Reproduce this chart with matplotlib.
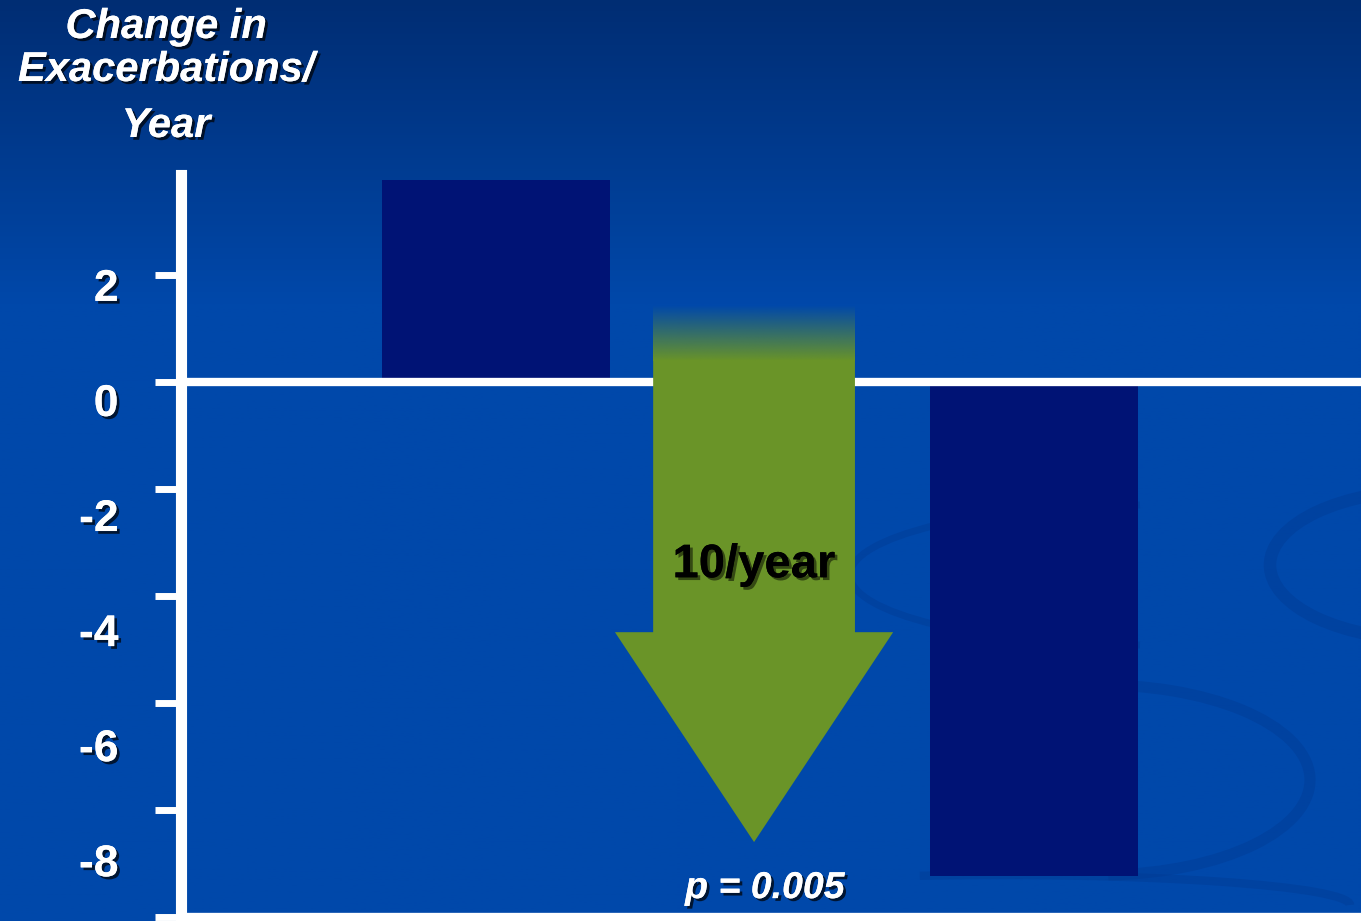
import matplotlib.pyplot as plt
import matplotlib.patheffects as pe
import matplotlib.transforms as mtransforms
from matplotlib.patches import Polygon, Arc
import numpy as np

# data
groups = ['before', 'after']
changes = [3.77, -9.24]
bar_widths = [0.424, 0.387]
yticks = [2, 0, -2, -4, -6, -8, -10]
ytick_labels = ['2', '0', '-2', '-4', '-6', '-8', '']
arrow_label = '10/year'
p_label = 'p = 0.005'
ylabel_lines = ['Change in', 'Exacerbations/', 'Year']

# arrow shape (data units)
arrow_x = 0.48
shaft_half = 0.1875
head_half = 0.2585
fade_top, fade_bottom = 1.43, 0.41
head_start, tip = -4.68, -8.60

bg_top = np.array([0, 45, 115]) / 255
bg_bottom = np.array([0, 72, 170]) / 255
bar_color = '#001375'
green = np.array([106, 148, 40]) / 255

shadow = [pe.withSimplePatchShadow(offset=(2, -2), shadow_rgbFace='black', alpha=0.7), pe.Normal()]

fig = plt.figure(figsize=(13.61, 9.21), dpi=100)

# background gradient + faint swirls (pixel coords)
bg = fig.add_axes([0, 0, 1, 1], zorder=0)
t = np.clip(np.linspace(0, 1, 400) / 0.33, 0, 1)[:, None]
grad = bg_top * (1 - t) + bg_bottom * t
bg.imshow(grad[:, None, :].repeat(2, axis=1), aspect='auto', extent=[0, 1361, 921, 0])
for (cx, cy, w, h, a1, a2, lw) in [(1140, 575, 580, 140, 90, 270, 5),
                                   (1100, 780, 420, 190, -95, 85, 8),
                                   (1430, 565, 320, 150, 90, 270, 9),
                                   (1000, 905, 700, 60, 200, 360, 6)]:
    bg.add_patch(Arc((cx, cy), w, h, theta1=a1, theta2=a2,
                     color=(0, 0.23, 0.58), alpha=0.45, lw=lw))
bg.set_xlim(0, 1361)
bg.set_ylim(921, 0)
bg.axis('off')

ax = fig.add_axes([181 / 1361, 4 / 921, 1180 / 1361, 742 / 921], zorder=1)
ax.patch.set_alpha(0)

x = np.arange(len(groups))
ax.bar(x, changes, width=bar_widths, color=bar_color, zorder=2)
ax.axhline(0, color='white', lw=6, zorder=3)

# green arrow with faded top
arrow = Polygon([(arrow_x - shaft_half, fade_bottom), (arrow_x + shaft_half, fade_bottom),
                 (arrow_x + shaft_half, head_start), (arrow_x + head_half, head_start),
                 (arrow_x, tip), (arrow_x - head_half, head_start),
                 (arrow_x - shaft_half, head_start)],
                closed=True, facecolor=green, edgecolor='none', zorder=4)
ax.add_patch(arrow)
fade = np.zeros((100, 1, 4))
fade[:, 0, :3] = green
fade[:, 0, 3] = np.linspace(0, 1, 100)
ax.imshow(fade, aspect='auto', origin='upper',
          extent=[arrow_x - shaft_half, arrow_x + shaft_half, fade_bottom - 0.02, fade_top], zorder=4)

ax.text(arrow_x, -3.43, arrow_label, ha='center', va='center', fontsize=34, fontweight='bold',
        color='black', family='Liberation Sans', zorder=5,
        path_effects=[pe.withSimplePatchShadow(offset=(2, -2), shadow_rgbFace='black', alpha=0.5), pe.Normal()])
ax.text(0.50, -9.46, p_label, ha='center', va='center', fontsize=27, fontweight='bold',
        fontstyle='italic', color='white', family='Liberation Sans', zorder=5, path_effects=shadow)

ax.set_xlim(-0.585, 1.608)
ax.set_ylim(-10, 3.86)
ax.set_xticks([])
ax.set_yticks(yticks)
ax.set_yticklabels(ytick_labels)
ax.tick_params(axis='y', length=19, width=5, color='white', pad=26, labelsize=32,
               labelcolor='white')
# on the slide the labels are spaced a bit wider than the ticks, so they drift down
for v, lab in zip(yticks, ax.get_yticklabels()):
    lab.set_fontweight('bold')
    lab.set_family('Liberation Sans')
    lab.set_path_effects(shadow)
    off = (18.3 - 4 * v) / 100
    lab.set_transform(lab.get_transform() + mtransforms.ScaledTranslation(0, -off, fig.dpi_scale_trans))
for s in ['top', 'right']:
    ax.spines[s].set_visible(False)
ax.spines['left'].set_color('white')
ax.spines['left'].set_linewidth(8)
ax.spines['bottom'].set_color('white')
ax.spines['bottom'].set_linewidth(6)

# y axis title, top left
for txt, ypx in zip(ylabel_lines, [27, 70, 126]):
    fig.text(166 / 1361, 1 - ypx / 921, txt, ha='center', va='center', fontsize=30,
             fontweight='bold', fontstyle='italic', color='white', family='Liberation Sans',
             path_effects=shadow)

fig.savefig('out.png', dpi=100)
